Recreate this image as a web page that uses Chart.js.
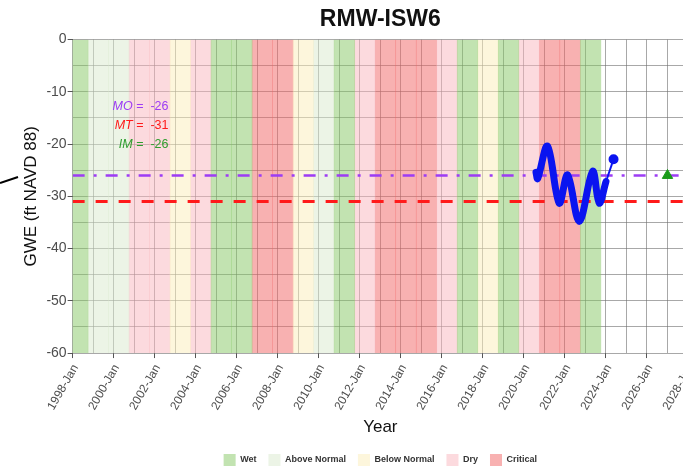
<!DOCTYPE html>
<html>
<head>
<meta charset="utf-8">
<title>RMW-ISW6</title>
<script src="https://cdn.jsdelivr.net/npm/chart.js@4.4.1/dist/chart.umd.min.js"></script>
<style>
  html, body { margin: 0; padding: 0; background: #fff; overflow: hidden; }
  #wrap { position: relative; width: 713px; height: 471px; }
</style>
</head>
<body>
<div id="wrap"><canvas id="myChart"></canvas></div>
<script>
// water year types (Oct - Sep)
const WATER_YEARS = [1998, 1999, 2000, 2001, 2002, 2003, 2004, 2005, 2006, 2007, 2008, 2009, 2010,
    2011, 2012, 2013, 2014, 2015, 2016, 2017, 2018, 2019, 2020, 2021, 2022, 2023]
const YEAR_TYPES = ['Wet', 'Above Normal', 'Above Normal', 'Dry', 'Dry', 'Below Normal', 'Dry', 'Wet', 'Wet',
    'Critical', 'Critical', 'Below Normal', 'Above Normal', 'Wet', 'Dry', 'Critical', 'Critical', 'Critical',
    'Dry', 'Wet', 'Below Normal', 'Wet', 'Dry', 'Critical', 'Critical', 'Wet']
const TYPE_NAMES = ['Wet', 'Above Normal', 'Below Normal', 'Dry', 'Critical']
const TYPE_COLORS = ['rgba(133,199,100,0.5)', 'rgba(217,233,205,0.5)', 'rgba(251,237,185,0.5)',
    'rgba(249,181,189,0.5)', 'rgba(241,100,100,0.5)']

// groundwater elevation (decimal year, ft NAVD 88)
const GWE_DATES = [2020.59, 2020.67, 2021.15, 2021.72, 2022.13, 2022.70, 2023.35, 2023.67, 2024.0]
const GWE_VALUES = [-25.4, -26.6, -20.4, -31.3, -25.9, -34.8, -25.2, -31.3, -27.2]
const LATEST_DATES = [2024.0, 2024.37]
const LATEST_VALUES = [-27.2, -22.9]

// sustainable management criteria
const THRESHOLD_NAMES = ['MO', 'MT', 'IM']
const THRESHOLD_VALUES = [-26, -31, -26]
const THRESHOLD_COLORS = ['#9d3cf5', '#ff1a1a', '#2e9e2e']
const IM_DATE = 2027.0

const X_RANGE = [1998, 2028]
const Y_RANGE = [-60, 0]

Chart.defaults.font.family = '"Liberation Sans", Arial, sans-serif'

const bandSets = TYPE_NAMES.map((name, t) => ({
    type: 'bar',
    label: name,
    data: WATER_YEARS.filter((wy, i) => YEAR_TYPES[i] === name)
        .map(wy => ({ x: wy + 0.25, y: [Y_RANGE[0], Y_RANGE[1]] })),
    backgroundColor: TYPE_COLORS[t],
    borderWidth: 0,
    grouped: false,
    barPercentage: 1,
    categoryPercentage: 1,
    order: 10
}))

const hLine = (value, color, dash, width) => ({
    type: 'line',
    label: 'line',
    data: [{ x: X_RANGE[0], y: value }, { x: X_RANGE[1], y: value }],
    borderColor: color,
    borderWidth: width,
    borderDash: dash,
    pointRadius: 0,
    order: 2
})

const thresholdText = {
    id: 'thresholdText',
    afterDatasetsDraw(chart) {
        const { ctx, scales: { x, y } } = chart
        const xRight = x.getPixelForValue(2000.93)
        ctx.save()
        ctx.textBaseline = 'middle'
        THRESHOLD_NAMES.forEach((name, i) => {
            const yPix = y.getPixelForValue(-12.8 - i * 3.6)
            ctx.fillStyle = THRESHOLD_COLORS[i]
            ctx.font = 'italic 12.5px "Liberation Sans"'
            ctx.textAlign = 'right'
            ctx.fillText(name, xRight, yPix)
            ctx.font = '12.5px "Liberation Sans"'
            ctx.textAlign = 'left'
            ctx.fillText(' =  ' + THRESHOLD_VALUES[i], xRight, yPix)
        })
        ctx.restore()
    },
    afterDraw(chart) {
        // stray leader line at the left edge, rising to the right
        const ctx = chart.ctx
        ctx.save()
        ctx.setTransform(1, 0, 0, 1, 0, 0)
        ctx.strokeStyle = '#000'
        ctx.lineWidth = 2
        ctx.beginPath()
        ctx.moveTo(0, 183)
        ctx.lineTo(18, 177)
        ctx.stroke()
        ctx.restore()
    }
}

const ctx = document.getElementById('myChart').getContext('2d')

new Chart(ctx, {
    data: {
        datasets: [
            ...bandSets,
            hLine(THRESHOLD_VALUES[0], THRESHOLD_COLORS[0], [12, 9, 3, 9], 2.5),
            hLine(THRESHOLD_VALUES[1], THRESHOLD_COLORS[1], [12, 11], 3),
            {
                type: 'line',
                label: 'GWE',
                data: GWE_DATES.map((d, i) => ({ x: d, y: GWE_VALUES[i] })),
                borderColor: '#0a14f0',
                borderWidth: 7,
                tension: 0.35,
                borderJoinStyle: 'round',
                borderCapStyle: 'round',
                pointRadius: 0,
                order: 1
            },
            {
                type: 'line',
                label: 'latest',
                data: LATEST_DATES.map((d, i) => ({ x: d, y: LATEST_VALUES[i] })),
                borderColor: '#0a14f0',
                backgroundColor: '#0a14f0',
                borderWidth: 2,
                pointRadius: [0, 4],
                order: 1
            },
            {
                type: 'line',
                label: 'IM',
                data: [{ x: IM_DATE, y: THRESHOLD_VALUES[2] }],
                showLine: false,
                pointStyle: 'triangle',
                pointRadius: 6,
                backgroundColor: '#1a9a1a',
                borderColor: '#1a9a1a',
                order: 1
            }
        ]
    },
    options: {
        responsive: true,
        maintainAspectRatio: false,
        animation: false,
        layout: { padding: { left: 17, right: 25, top: 0, bottom: -5 } },
        plugins: {
            tooltip: { enabled: false },
            title: {
                display: true,
                text: 'RMW-ISW6',
                fullSize: false,
                color: '#111',
                font: { size: 23, weight: 'bold' },
                padding: { top: 6, bottom: 6 }
            },
            legend: {
                position: 'bottom',
                fullSize: false,
                labels: {
                    filter: item => item.datasetIndex < TYPE_NAMES.length,
                    boxWidth: 12,
                    boxHeight: 12,
                    padding: 12,
                    color: '#333',
                    font: { size: 9, weight: 'bold' }
                }
            }
        },
        scales: {
            x: {
                type: 'linear',
                offset: false,
                min: X_RANGE[0],
                max: X_RANGE[1],
                border: { display: false },
                grid: {
                    offset: false,
                    color: 'rgba(110,110,110,0.6)',
                    tickLength: 5,
                    tickColor: c => (c.tick && c.tick.value % 2 === 0) ? '#555' : 'rgba(0,0,0,0)'
                },
                ticks: {
                    stepSize: 1,
                    autoSkip: false,
                    minRotation: 60,
                    maxRotation: 60,
                    padding: 4,
                    labelOffset: 3,
                    color: '#4d4d4d',
                    font: { size: 12 },
                    callback: v => v % 2 === 0 ? v + '-Jan' : ''
                },
                title: {
                    display: true,
                    text: 'Year',
                    color: '#111',
                    font: { size: 17 },
                    padding: { top: 1, bottom: 4 }
                }
            },
            y: {
                min: Y_RANGE[0],
                max: Y_RANGE[1],
                border: { display: false },
                grid: {
                    color: 'rgba(110,110,110,0.6)',
                    tickLength: 5,
                    tickColor: c => (c.tick && c.tick.value % 10 === 0) ? '#555' : 'rgba(0,0,0,0)'
                },
                ticks: {
                    stepSize: 5,
                    padding: 1,
                    color: '#4d4d4d',
                    font: { size: 14 },
                    callback: v => v % 10 === 0 ? v : ''
                },
                title: {
                    display: true,
                    text: 'GWE (ft NAVD 88)',
                    color: '#111',
                    font: { size: 17 },
                    padding: { top: 4, bottom: 4 }
                }
            }
        }
    },
    plugins: [thresholdText]
})
</script>
</body>
</html>
